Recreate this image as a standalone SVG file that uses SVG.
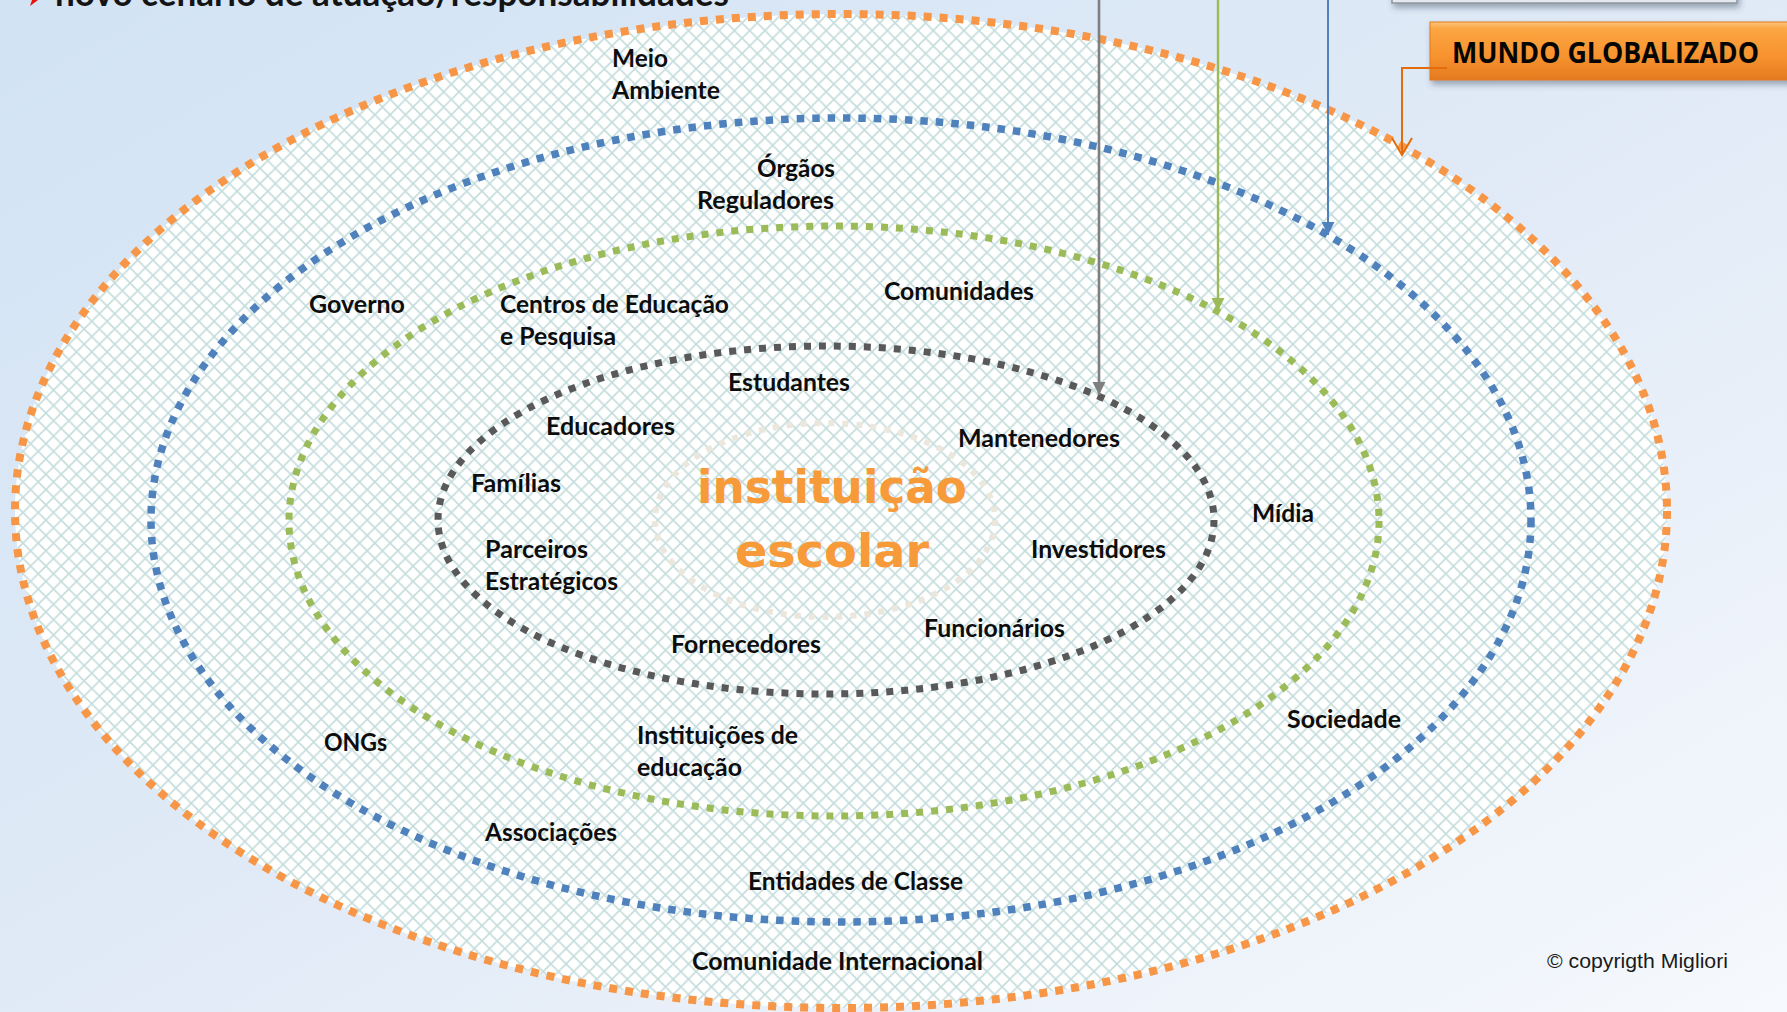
<svg xmlns="http://www.w3.org/2000/svg" width="1787" height="1012" viewBox="0 0 1787 1012">
  <defs>
    <linearGradient id="bg" x1="0" y1="0" x2="1" y2="1">
      <stop offset="0" stop-color="#d2e3f4"/>
      <stop offset="0.55" stop-color="#e2ebf7"/>
      <stop offset="1" stop-color="#f6f9fd"/>
    </linearGradient>
    <pattern id="hatch" patternUnits="userSpaceOnUse" width="15.3" height="15.3">
      <path d="M0,0 L15.3,15.3 M15.3,0 L0,15.3" stroke="#c4dcdc" stroke-width="1.6" fill="none"/>
    </pattern>
    <linearGradient id="orangeBox" x1="0" y1="0" x2="0" y2="1">
      <stop offset="0" stop-color="#fdc479"/>
      <stop offset="0.12" stop-color="#fca642"/>
      <stop offset="0.6" stop-color="#f7922e"/>
      <stop offset="1" stop-color="#e47a1f"/>
    </linearGradient>
    <filter id="shadow" x="-10%" y="-30%" width="130%" height="180%">
      <feDropShadow dx="2" dy="4" stdDeviation="3" flood-color="#3a4a5a" flood-opacity="0.45"/>
    </filter>
    <marker id="headGrey" viewBox="0 0 10 10" refX="10" refY="5" markerUnits="userSpaceOnUse" markerWidth="13" markerHeight="15" orient="auto">
      <path d="M0,0 L10,5 L0,10 z" fill="#7f7f7f"/>
    </marker>
    <marker id="headGreen" viewBox="0 0 10 10" refX="10" refY="5" markerUnits="userSpaceOnUse" markerWidth="13" markerHeight="15" orient="auto">
      <path d="M0,0 L10,5 L0,10 z" fill="#9bbb59"/>
    </marker>
    <marker id="headBlue" viewBox="0 0 10 10" refX="10" refY="5" markerUnits="userSpaceOnUse" markerWidth="13" markerHeight="13" orient="auto">
      <path d="M0,0 L10,5 L0,10 z" fill="#4f81bd"/>
    </marker>
  </defs>
  <style>
    .lbl { font-family: Lato, "Open Sans", "Liberation Sans", sans-serif; font-weight: 700; font-size: 24px; fill: #0d0d0d; }
    .ring { fill: none; }
    .center { font-family: "DejaVu Sans", "Liberation Sans", sans-serif; font-weight: 700; font-size: 46px; fill: #f79a3a; }
  </style>

  <rect x="0" y="0" width="1787" height="1012" fill="url(#bg)"/>

  <!-- title (cut off at top, as in the reference) -->
  <g id="title">
    <polygon points="28,-8 38,0 30,6 32,0" fill="#e8120c"/>
    <text x="55" y="6" font-family="Lato, 'Open Sans', sans-serif" font-weight="700" font-size="36" fill="#141414" textLength="674" lengthAdjust="spacingAndGlyphs">novo cenário de atuação/responsabilidades</text>
  </g>

  <!-- rings -->
  <g id="rings">
    <ellipse cx="841" cy="511" rx="826" ry="497" fill="#ffffff"/>
    <ellipse cx="841" cy="511" rx="826" ry="497" fill="url(#hatch)"/>
    <ellipse id="ring-orange" class="ring" cx="841" cy="511" rx="826" ry="497" stroke="#f79646" stroke-width="8" stroke-dasharray="8 8"/>
    <ellipse id="ring-blue" class="ring" cx="841" cy="520" rx="690" ry="402" stroke="#4f81bd" stroke-width="7.5" stroke-dasharray="7.5 8"/>
    <ellipse id="ring-green" class="ring" cx="834" cy="521" rx="545" ry="295" stroke="#9bbb59" stroke-width="7" stroke-dasharray="7 8"/>
    <ellipse id="ring-grey" class="ring" cx="826" cy="520" rx="388" ry="174" stroke="#595959" stroke-width="7" stroke-dasharray="7 8"/>
    <ellipse id="ring-core" class="ring" cx="825" cy="520" rx="170" ry="97" stroke="#ebe7dc" stroke-width="6" stroke-dasharray="6 8"/>
  </g>

  <!-- center -->
  <g id="instituicao">
    <text class="center" x="832" y="503" text-anchor="middle" textLength="270" lengthAdjust="spacingAndGlyphs">instituição</text>
    <text class="center" x="832" y="567" text-anchor="middle" textLength="194" lengthAdjust="spacingAndGlyphs">escolar</text>
  </g>

  <!-- top boxes -->
  <g id="topbox">
    <rect x="1392" y="-40" width="345" height="43" fill="#e4e9ef" stroke="#8e959d" stroke-width="1.5" filter="url(#shadow)"/>
  </g>
  <g id="mundo">
    <rect x="1430" y="22" width="370" height="58" fill="url(#orangeBox)" stroke="#e07a1a" stroke-width="1" filter="url(#shadow)"/>
    <text x="1452" y="63" font-family="'Open Sans', Lato, sans-serif" font-weight="700" font-size="28" fill="#050505" textLength="307" lengthAdjust="spacingAndGlyphs">MUNDO GLOBALIZADO</text>
  </g>

  <!-- connectors -->
  <g id="connectors" fill="none">
    <line x1="1099" y1="0" x2="1099" y2="395" stroke="#7f7f7f" stroke-width="2.6" marker-end="url(#headGrey)"/>
    <line x1="1218" y1="0" x2="1218" y2="311" stroke="#9bbb59" stroke-width="2.4" marker-end="url(#headGreen)"/>
    <line x1="1328" y1="0" x2="1328" y2="235" stroke="#4f81bd" stroke-width="2" marker-end="url(#headBlue)"/>
    <polyline points="1447,68 1402,68 1402,155" stroke="#e46c0a" stroke-width="2"/>
    <polyline points="1392,138 1402,155 1412,138" stroke="#e46c0a" stroke-width="2"/>
  </g>

  <!-- labels -->
  <g id="meio-ambiente"><text class="lbl" x="612" y="67" textLength="56" lengthAdjust="spacingAndGlyphs">Meio</text><text class="lbl" x="612" y="99" textLength="108" lengthAdjust="spacingAndGlyphs">Ambiente</text></g>
  <g id="orgaos"><text class="lbl" x="757" y="177" textLength="78" lengthAdjust="spacingAndGlyphs">Órgãos</text><text class="lbl" x="697" y="209" textLength="137" lengthAdjust="spacingAndGlyphs">Reguladores</text></g>
  <g id="governo"><text class="lbl" x="309" y="313" textLength="96" lengthAdjust="spacingAndGlyphs">Governo</text></g>
  <g id="centros"><text class="lbl" x="500" y="313" textLength="229" lengthAdjust="spacingAndGlyphs">Centros de Educação</text><text class="lbl" x="500" y="345" textLength="116" lengthAdjust="spacingAndGlyphs">e Pesquisa</text></g>
  <g id="comunidades"><text class="lbl" x="884" y="300" textLength="150" lengthAdjust="spacingAndGlyphs">Comunidades</text></g>
  <g id="estudantes"><text class="lbl" x="728" y="391" textLength="122" lengthAdjust="spacingAndGlyphs">Estudantes</text></g>
  <g id="educadores"><text class="lbl" x="546" y="435" textLength="129" lengthAdjust="spacingAndGlyphs">Educadores</text></g>
  <g id="mantenedores"><text class="lbl" x="958" y="447" textLength="162" lengthAdjust="spacingAndGlyphs">Mantenedores</text></g>
  <g id="familias"><text class="lbl" x="471" y="492" textLength="90" lengthAdjust="spacingAndGlyphs">Famílias</text></g>
  <g id="midia"><text class="lbl" x="1252" y="522" textLength="62" lengthAdjust="spacingAndGlyphs">Mídia</text></g>
  <g id="parceiros"><text class="lbl" x="485" y="558" textLength="103" lengthAdjust="spacingAndGlyphs">Parceiros</text><text class="lbl" x="485" y="590" textLength="133" lengthAdjust="spacingAndGlyphs">Estratégicos</text></g>
  <g id="investidores"><text class="lbl" x="1031" y="558" textLength="135" lengthAdjust="spacingAndGlyphs">Investidores</text></g>
  <g id="funcionarios"><text class="lbl" x="924" y="637" textLength="141" lengthAdjust="spacingAndGlyphs">Funcionários</text></g>
  <g id="fornecedores"><text class="lbl" x="671" y="653" textLength="150" lengthAdjust="spacingAndGlyphs">Fornecedores</text></g>
  <g id="sociedade"><text class="lbl" x="1287" y="728" textLength="114" lengthAdjust="spacingAndGlyphs">Sociedade</text></g>
  <g id="ongs"><text class="lbl" x="324" y="751" textLength="63" lengthAdjust="spacingAndGlyphs">ONGs</text></g>
  <g id="instituicoes"><text class="lbl" x="637" y="744" textLength="161" lengthAdjust="spacingAndGlyphs">Instituições de</text><text class="lbl" x="637" y="776" textLength="105" lengthAdjust="spacingAndGlyphs">educação</text></g>
  <g id="associacoes"><text class="lbl" x="485" y="841" textLength="132" lengthAdjust="spacingAndGlyphs">Associações</text></g>
  <g id="entidades"><text class="lbl" x="748" y="890" textLength="215" lengthAdjust="spacingAndGlyphs">Entidades de Classe</text></g>
  <g id="comunidade-internacional"><text class="lbl" x="692" y="970" textLength="291" lengthAdjust="spacingAndGlyphs">Comunidade Internacional</text></g>

  <g id="copyright"><text x="1547" y="968" font-family="'Liberation Sans', Arial, sans-serif" font-size="20.5" fill="#1a1a1a" textLength="181" lengthAdjust="spacingAndGlyphs">© copyrigth Migliori</text></g>
</svg>
